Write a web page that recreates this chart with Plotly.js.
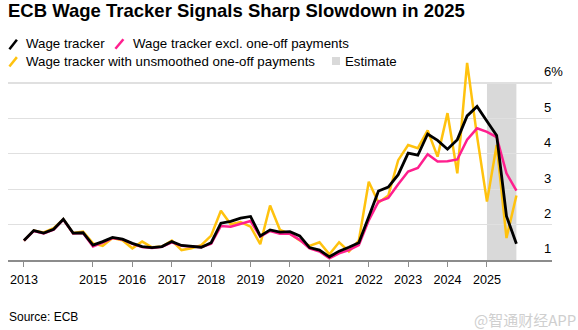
<!DOCTYPE html>
<html>
<head>
<meta charset="utf-8">
<script src="https://cdn.plot.ly/plotly-3.0.1.min.js"></script>
<style>
  html, body { margin: 0; padding: 0; background: #ffffff; }
  #chart { width: 578px; height: 330px; }
</style>
</head>
<body>
<div id="chart"></div>
<script>
// ---- Data (quarterly) ----
const quarters = [
  '2013-04-01','2013-07-01','2013-10-01',
  '2014-01-01','2014-04-01','2014-07-01','2014-10-01',
  '2015-01-01','2015-04-01','2015-07-01','2015-10-01',
  '2016-01-01','2016-04-01','2016-07-01','2016-10-01',
  '2017-01-01','2017-04-01','2017-07-01','2017-10-01',
  '2018-01-01','2018-04-01','2018-07-01','2018-10-01',
  '2019-01-01','2019-04-01','2019-07-01','2019-10-01',
  '2020-01-01','2020-04-01','2020-07-01','2020-10-01',
  '2021-01-01','2021-04-01','2021-07-01','2021-10-01',
  '2022-01-01','2022-04-01','2022-07-01','2022-10-01',
  '2023-01-01','2023-04-01','2023-07-01','2023-10-01',
  '2024-01-01','2024-04-01','2024-07-01','2024-10-01',
  '2025-01-01','2025-04-01','2025-07-01','2025-10-01'
];

const wageTracker = [
  1.55, 1.83, 1.76,
  1.87, 2.15, 1.76, 1.77,
  1.42, 1.52, 1.64, 1.59,
  1.47, 1.38, 1.35, 1.38,
  1.52, 1.41, 1.38, 1.36,
  1.49, 2.04, 2.09, 2.18,
  2.23, 1.68, 1.85, 1.79,
  1.80, 1.68, 1.35, 1.28,
  1.09, 1.25, 1.36, 1.49,
  2.22, 2.95, 3.06, 3.41,
  4.02, 3.96, 4.56, 4.38,
  4.13, 4.40, 5.07, 5.34,
  4.92, 4.52, 2.24, 1.46
];

const exclOneOff = [
  1.55, 1.82, 1.75,
  1.86, 2.14, 1.75, 1.76,
  1.38, 1.49, 1.62, 1.58,
  1.46, 1.37, 1.34, 1.37,
  1.50, 1.40, 1.37, 1.36,
  1.46, 1.96, 1.94, 2.02,
  2.10, 1.66, 1.82, 1.74,
  1.74, 1.57, 1.33, 1.24,
  1.05, 1.19, 1.28, 1.42,
  2.12, 2.65, 2.75, 3.14,
  3.50, 3.60, 3.99, 3.78,
  3.79, 3.84, 4.40, 4.72,
  4.62, 4.47, 3.45, 2.96
];

const unsmoothed = [
  1.55, 1.83, 1.78,
  1.90, 2.15, 1.76, 1.80,
  1.47, 1.40, 1.62, 1.56,
  1.33, 1.52, 1.36, 1.38,
  1.55, 1.28, 1.33, 1.42,
  1.69, 2.39, 2.01, 2.07,
  1.94, 1.45, 2.54, 1.85,
  1.74, 1.55, 1.40, 1.50,
  1.16, 1.50, 1.24, 1.55,
  3.21, 2.62, 2.82, 3.82,
  4.25, 4.16, 4.66, 3.92,
  5.15, 3.45, 6.57, 4.50,
  2.65, 4.25, 1.62, 2.82
];

const seriesNames = [
  'Wage tracker',
  'Wage tracker excl. one-off payments',
  'Wage tracker with unsmoothed one-off payments',
  'Estimate'
];

const xTickDates = ['2013-04-01','2015-01-01','2016-01-01','2017-01-01','2018-01-01','2019-01-01',
                    '2020-01-01','2021-01-01','2022-01-01','2023-01-01','2024-01-01','2025-01-01'];
const xTickLabels = ['2013','2015','2016','2017','2018','2019','2020','2021','2022','2023','2024','2025'];
const yTickVals = [1, 2, 3, 4, 5, 6];
const yTickLabels = ['1', '2', '3', '4', '5', '6%'];
const estimatePeriod = ['2025-01-01', '2025-10-01'];
const estimateRange = [1, 6];

// ---- Styling ----
const BLACK = '#000000';
const PINK = '#ff1f8e';
const YELLOW = '#ffc20e';
const GREY = '#d9d9d9';
const FONT = 'Liberation Sans, Arial, Helvetica, sans-serif';

// pixel -> paper helpers (plot area: x 8..552, y 60..260)
const L = 8, R = 26, T = 60, B = 70, W = 578, H = 330;
const PW = W - L - R, PH = H - T - B;
const px = v => (v - L) / PW;
const py = v => (H - B - v) / PH;

const traces = [
  { x: quarters, y: unsmoothed, name: seriesNames[2], type: 'scatter', mode: 'lines',
    line: { color: YELLOW, width: 2.5 }, hoverinfo: 'skip' },
  { x: quarters, y: exclOneOff, name: seriesNames[1], type: 'scatter', mode: 'lines',
    line: { color: PINK, width: 2.5 }, hoverinfo: 'skip' },
  { x: quarters, y: wageTracker, name: seriesNames[0], type: 'scatter', mode: 'lines',
    line: { color: BLACK, width: 2.8 }, hoverinfo: 'skip' }
];

const legendFont = { family: FONT, size: 13.3, color: '#000' };
function legText(text, x, y) {
  return { text: text, xref: 'paper', yref: 'paper', x: px(x), y: py(y),
           xanchor: 'left', yanchor: 'middle', showarrow: false, font: legendFont };
}
function slash(x0, y0, x1, y1, color) {
  return { type: 'line', xref: 'paper', yref: 'paper', x0: px(x0), y0: py(y0), x1: px(x1), y1: py(y1),
           line: { color: color, width: 2.5 } };
}

const layout = {
  width: W, height: H,
  margin: { l: L, r: R, t: T, b: B, pad: 0 },
  paper_bgcolor: '#ffffff', plot_bgcolor: '#ffffff',
  showlegend: false,
  font: { family: FONT, color: '#000' },
  title: {
    text: '<b>ECB Wage Tracker Signals Sharp Slowdown in 2025</b>',
    xref: 'container', yref: 'container', x: 8 / W, xanchor: 'left',
    y: 1 - 4 / H, yanchor: 'top',
    font: { family: FONT, size: 18.5, color: '#000' }
  },
  xaxis: {
    type: 'date',
    range: ['2012-11-04', '2026-08-27'],
    tickmode: 'array', tickvals: xTickDates, ticktext: xTickLabels,
    showgrid: false, zeroline: false,
    showline: true, linecolor: '#8c8c8c', linewidth: 2,
    ticks: 'outside', ticklen: 5, tickwidth: 1, tickcolor: '#8c8c8c',
    ticklabelstandoff: 2,
    tickfont: { family: FONT, size: 12.6, color: '#000' },
    fixedrange: true
  },
  yaxis: {
    side: 'right',
    range: [1, 6.65],
    tickmode: 'array', tickvals: yTickVals, ticktext: yTickLabels,
    showgrid: true, gridcolor: '#e0e0e0', gridwidth: 1.3,
    zeroline: false, showline: false, ticks: '',
    ticklabelposition: 'outside top',
    ticklabelstandoff: -9,
    ticklabelshift: -2,
    tickfont: { family: FONT, size: 13, color: '#000' },
    fixedrange: true
  },
  shapes: [
    { type: 'rect', xref: 'x', yref: 'y', x0: estimatePeriod[0], x1: estimatePeriod[1],
      y0: estimateRange[0], y1: estimateRange[1], fillcolor: GREY, line: { width: 0 }, layer: 'below' },
    slash(9.4, 49.2, 16.9, 39.8, BLACK),
    slash(115.4, 48.7, 123.4, 39.3, PINK),
    slash(9.4, 66.5, 16.9, 57.1, YELLOW),
    { type: 'rect', xref: 'paper', yref: 'paper', x0: px(332), x1: px(340), y0: py(65), y1: py(57),
      fillcolor: GREY, line: { width: 0 } }
  ],
  annotations: [
    legText(seriesNames[0], 24, 44),
    legText(seriesNames[1], 130.5, 44),
    legText(seriesNames[2], 24, 61),
    legText(seriesNames[3], 342.5, 61),
    { text: 'Source: ECB', xref: 'paper', yref: 'paper', x: px(7), y: py(317),
      xanchor: 'left', yanchor: 'middle', showarrow: false,
      font: { family: FONT, size: 12, color: '#000' } },
    { text: '@智通财经APP', xref: 'paper', yref: 'paper', x: px(578), y: py(319),
      xanchor: 'right', yanchor: 'middle', showarrow: false,
      font: { family: 'Noto Sans CJK SC, sans-serif', size: 15, color: '#cfcfcf' } }
  ]
};

Plotly.newPlot('chart', traces, layout, { displayModeBar: false, staticPlot: true });
</script>
</body>
</html>
